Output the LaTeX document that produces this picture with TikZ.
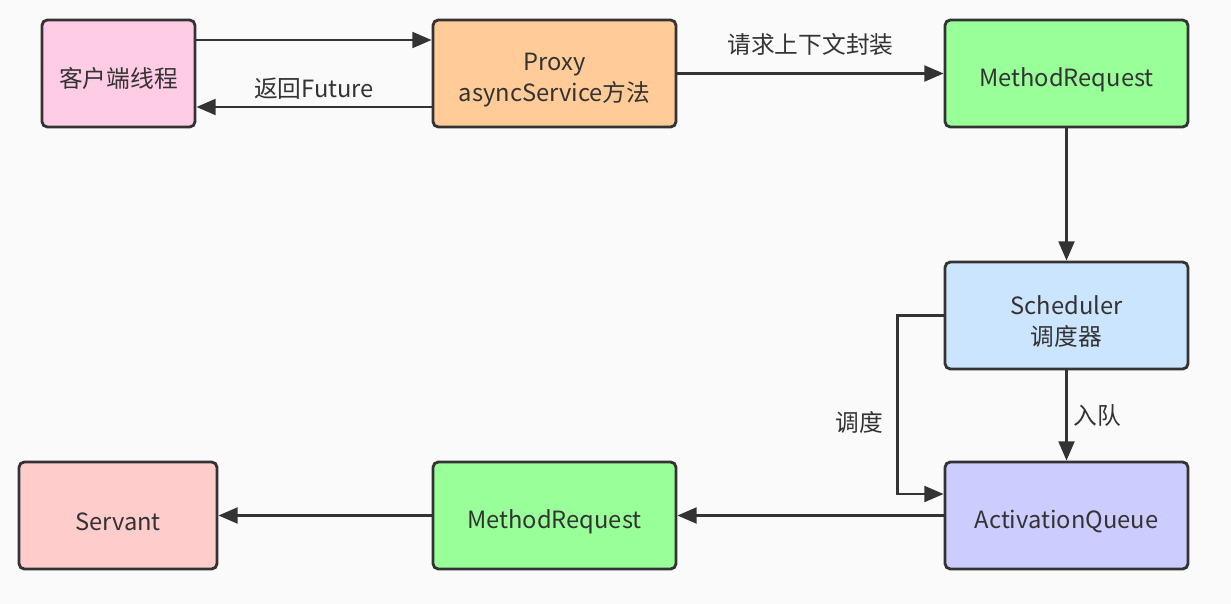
\documentclass[tikz,border=0pt]{standalone}
\usepackage{fontspec}
\setmainfont{Noto Sans CJK SC}
\usetikzlibrary{arrows.meta}
\definecolor{ink}{HTML}{333333}
\definecolor{bg}{HTML}{FAFAFA}
\definecolor{cpink}{HTML}{FFCCE6}
\definecolor{corange}{HTML}{FFCC99}
\definecolor{cgreen}{HTML}{99FF99}
\definecolor{cblue}{HTML}{CCE5FF}
\definecolor{cviolet}{HTML}{CCCCFF}
\definecolor{cred}{HTML}{FFCCCC}
\newcommand{\lowr}{\rule{0pt}{17.5pt}}

\begin{document}
\begin{tikzpicture}[x=0.02cm, y=-0.02cm, font=\fontsize{13.5}{17.8}\selectfont, text=ink,
  blk/.style={draw=ink, line width=1.6pt, rounded corners=3pt, align=center,
    minimum width=4.86cm, minimum height=2.14cm, inner sep=2pt},
  arr/.style={draw=ink, line width=1.6pt, -{Triangle[length=11pt,width=9pt]}}]
  \fill[bg] (0,0) rectangle (1231,604);
  \useasboundingbox (0,0) rectangle (1231,604);
  \node[blk, fill=cpink, minimum width=3.06cm] (cli) at (118.5,73.5) {\lowr 客户端线程};
  \node[blk, fill=corange] (proxy) at (554.5,73.5) {\lowr Proxy\\asyncService方法};
  \node[blk, fill=cgreen] (mreq) at (1066.5,73.5) {\lowr MethodRequest};
  \node[blk, fill=cblue] (sched) at (1066.5,315.5) {\lowr Scheduler\\调度器};
  \node[blk, fill=cviolet] (aq) at (1066.5,515.5) {\lowr ActivationQueue};
  \node[blk, fill=cgreen] (mreq2) at (554.5,515.5) {\lowr MethodRequest};
  \node[blk, fill=cred, minimum width=3.96cm] (srv) at (118,515.5) {\lowr Servant};
  \draw[arr] ([yshift=0.67cm]cli.east) -- ([yshift=0.67cm]proxy.west);
  \draw[arr] ([yshift=-0.67cm]proxy.west) -- node[above] {返回Future} ([yshift=-0.67cm]cli.east);
  \draw[arr] (proxy) -- node[above=6pt] {请求上下文封装} (mreq);
  \draw[arr] (mreq) -- (sched);
  \draw[arr] (sched) -- node[right] {入队} (aq);
  \draw[arr] (sched.west) -- ++(-46,0) |- node[left=4pt, pos=0.3] {调度} ([yshift=0.43cm]aq.west);
  \draw[arr] (aq) -- (mreq2);
  \draw[arr] (mreq2) -- (srv);
\end{tikzpicture}
\end{document}
